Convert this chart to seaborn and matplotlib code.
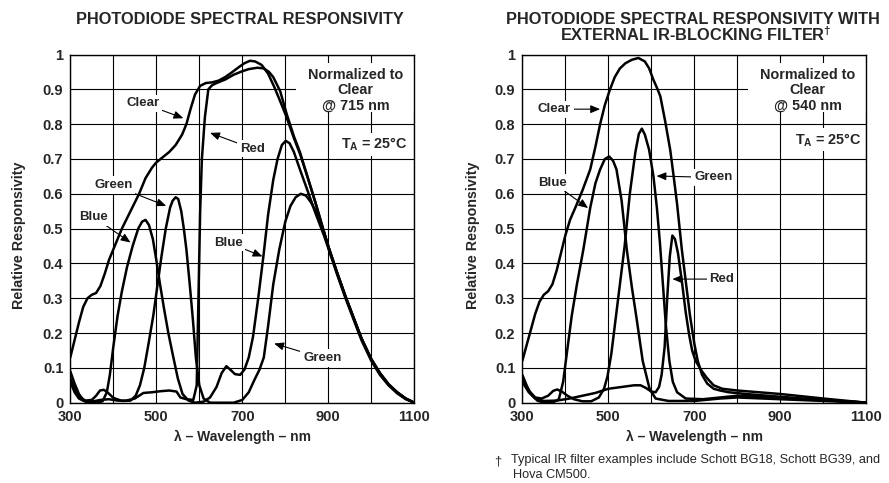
import numpy as np
import pandas as pd
import matplotlib
matplotlib.use("Agg")
import matplotlib.pyplot as plt
from matplotlib.patches import Rectangle
import seaborn as sns

# ---------------- data: left panel (no filter) ----------------
L_clear_wl = [300, 310, 320, 330, 340, 350, 360, 370, 380, 390, 400, 420, 440, 460, 475, 490, 500, 515, 530, 545,
              560, 570, 580, 590, 602, 615, 630, 645, 660, 675, 690, 705, 718, 730, 745, 760, 775, 790, 803, 820,
              834, 850, 870, 890, 901, 920, 940, 960, 977, 1000, 1020, 1040, 1060, 1080, 1100]
L_clear_v = [0.13, 0.18, 0.23, 0.275, 0.30, 0.31, 0.315, 0.335, 0.37, 0.41, 0.44, 0.50, 0.55, 0.60, 0.645, 0.675,
             0.69, 0.705, 0.72, 0.74, 0.77, 0.80, 0.845, 0.885, 0.91, 0.918, 0.92, 0.925, 0.935, 0.948, 0.962, 0.975,
             0.982, 0.98, 0.97, 0.945, 0.905, 0.86, 0.82, 0.76, 0.715, 0.655, 0.575, 0.49, 0.445, 0.375, 0.305, 0.24,
             0.185, 0.125, 0.085, 0.053, 0.03, 0.012, 0.0]

L_red_wl = [300, 310, 320, 335, 350, 370, 390, 410, 430, 450, 470, 490, 510, 530, 547, 556, 570, 586, 594, 598, 602,
            606, 613, 621, 630, 640, 660, 680, 700, 715, 735, 750, 762, 772, 788, 803, 820, 834, 850, 870, 890, 901,
            920, 940, 960, 977, 1000, 1020, 1040, 1060, 1080, 1100]
L_red_v = [0.06, 0.03, 0.012, 0.003, 0.003, 0.008, 0.01, 0.006, 0.006, 0.012, 0.028, 0.03, 0.033, 0.035, 0.032, 0.015,
           0.01, 0.008, 0.05, 0.30, 0.55, 0.70, 0.82, 0.90, 0.912, 0.918, 0.928, 0.942, 0.952, 0.958, 0.962, 0.96,
           0.95, 0.935, 0.895, 0.83, 0.765, 0.72, 0.655, 0.575, 0.49, 0.445, 0.375, 0.305, 0.24, 0.185, 0.125,
           0.085, 0.053, 0.03, 0.012, 0.0]

L_blue_wl = [300, 310, 320, 330, 345, 360, 375, 385, 392, 400, 410, 420, 432, 445, 458, 467, 475, 483, 492, 500, 508,
             518, 528, 538, 550, 561, 575, 590, 610, 625, 640, 652, 663, 672, 683, 695, 705, 715, 725, 737, 749, 760,
             772, 782, 792, 801, 810, 820, 834, 850, 870, 890, 901, 920, 940, 960, 977, 1000, 1020, 1040, 1060,
             1080, 1100]
L_blue_v = [0.09, 0.055, 0.025, 0.008, 0.0, 0.0, 0.004, 0.03, 0.08, 0.16, 0.25, 0.32, 0.39, 0.45, 0.50, 0.52, 0.525,
            0.51, 0.47, 0.41, 0.345, 0.27, 0.20, 0.14, 0.07, 0.025, 0.006, 0.0, 0.003, 0.015, 0.045, 0.085, 0.105,
            0.095, 0.082, 0.08, 0.095, 0.13, 0.19, 0.30, 0.42, 0.54, 0.64, 0.70, 0.74, 0.752, 0.745, 0.72, 0.67,
            0.615, 0.545, 0.48, 0.44, 0.37, 0.30, 0.235, 0.18, 0.12, 0.08, 0.05, 0.027, 0.01, 0.0]

L_green_wl = [300, 310, 320, 335, 350, 360, 369, 378, 388, 400, 420, 440, 452, 462, 472, 482, 493, 503, 512, 522, 532,
              538, 545, 551, 558, 564, 570, 577, 585, 592, 600, 610, 625, 650, 680, 700, 715, 728, 740, 750, 760, 772,
              786, 800, 812, 824, 836, 848, 860, 875, 890, 901, 920, 940, 960, 977, 1000, 1020, 1040, 1060, 1080,
              1100]
L_green_v = [0.07, 0.04, 0.018, 0.006, 0.008, 0.02, 0.035, 0.037, 0.028, 0.014, 0.005, 0.006, 0.02, 0.05, 0.10, 0.17,
             0.25, 0.34, 0.42, 0.50, 0.56, 0.58, 0.59, 0.585, 0.55, 0.50, 0.44, 0.35, 0.24, 0.13, 0.05, 0.012, 0.0,
             0.0, 0.0, 0.008, 0.03, 0.065, 0.095, 0.13, 0.22, 0.34, 0.44, 0.52, 0.565, 0.59, 0.60, 0.595, 0.575, 0.54,
             0.49, 0.445, 0.375, 0.305, 0.24, 0.185, 0.125, 0.085, 0.053, 0.03, 0.012, 0.0]

# ---------------- data: right panel (IR-blocking filter) ----------------
R_clear_wl = [300, 310, 320, 330, 340, 350, 360, 370, 380, 390, 400, 411, 425, 440, 458, 470, 481, 492, 504, 515, 527,
              540, 555, 570, 585, 595, 605, 613, 621, 632, 644, 652, 660, 671, 680, 690, 700, 708, 718, 730, 745, 760,
              780, 820, 870, 920, 970, 1020, 1070, 1100]
R_clear_v = [0.12, 0.165, 0.21, 0.255, 0.29, 0.31, 0.32, 0.34, 0.38, 0.43, 0.48, 0.525, 0.565, 0.61, 0.67, 0.735, 0.80,
             0.855, 0.90, 0.935, 0.96, 0.975, 0.985, 0.99, 0.98, 0.96, 0.927, 0.905, 0.88, 0.81, 0.726, 0.65, 0.57,
             0.44, 0.35, 0.25, 0.17, 0.12, 0.08, 0.055, 0.04, 0.035, 0.03, 0.025, 0.02, 0.015, 0.01, 0.006, 0.003,
             0.0]

R_blue_wl = [300, 310, 320, 335, 350, 370, 385, 395, 404, 415, 427, 442, 458, 470, 481, 492, 502, 511, 519, 531, 543,
             555, 566, 580, 596, 610, 640, 700, 760, 800, 900, 1000, 1100]
R_blue_v = [0.08, 0.05, 0.025, 0.006, 0.0, 0.0, 0.01, 0.06, 0.146, 0.25, 0.34, 0.44, 0.56, 0.63, 0.67, 0.70, 0.707,
            0.695, 0.67, 0.58, 0.44, 0.33, 0.24, 0.12, 0.04, 0.012, 0.005, 0.005, 0.012, 0.015, 0.01, 0.005, 0.0]

R_green_wl = [300, 315, 330, 345, 360, 372, 381, 392, 405, 420, 440, 460, 478, 490, 498, 507, 517, 527, 538, 550, 563,
              571, 578, 585, 595, 605, 613, 620, 627, 634, 642, 650, 660, 680, 720, 760, 800, 900, 1000, 1100]
R_green_v = [0.07, 0.035, 0.015, 0.012, 0.02, 0.034, 0.038, 0.032, 0.02, 0.01, 0.004, 0.004, 0.015, 0.04, 0.075, 0.14,
             0.24, 0.34, 0.45, 0.60, 0.72, 0.772, 0.787, 0.77, 0.726, 0.65, 0.56, 0.46, 0.34, 0.22, 0.12, 0.06, 0.03,
             0.012, 0.01, 0.015, 0.02, 0.015, 0.008, 0.0]

R_red_wl = [300, 315, 330, 350, 380, 410, 440, 470, 500, 530, 560, 575, 588, 600, 610, 618, 624, 631, 637, 643, 649,
            655, 662, 672, 680, 688, 695, 703, 718, 730, 745, 765, 800, 850, 900, 1000, 1100]
R_red_v = [0.06, 0.03, 0.012, 0.005, 0.006, 0.012, 0.02, 0.028, 0.04, 0.045, 0.05, 0.05, 0.042, 0.032, 0.03, 0.045,
           0.08, 0.16, 0.30, 0.42, 0.48, 0.47, 0.43, 0.34, 0.26, 0.195, 0.15, 0.12, 0.09, 0.07, 0.05, 0.04, 0.035,
           0.03, 0.025, 0.012, 0.0]

x_ticks = [300, 500, 700, 900, 1100]
y_ticks = [0, 0.1, 0.2, 0.3, 0.4, 0.5, 0.6, 0.7, 0.8, 0.9, 1]
y_ticklabels = ["0", "0.1", "0.2", "0.3", "0.4", "0.5", "0.6", "0.7", "0.8", "0.9", "1"]


def frame(series):
    rows = []
    for name, (wl, v) in series.items():
        rows.append(pd.DataFrame({"wl": wl, "v": v, "curve": name}))
    return pd.concat(rows, ignore_index=True)


left_df = frame({"Clear": (L_clear_wl, L_clear_v), "Red": (L_red_wl, L_red_v),
                 "Blue": (L_blue_wl, L_blue_v), "Green": (L_green_wl, L_green_v)})
right_df = frame({"Clear": (R_clear_wl, R_clear_v), "Red": (R_red_wl, R_red_v),
                  "Blue": (R_blue_wl, R_blue_v), "Green": (R_green_wl, R_green_v)})

sns.set_theme(style="white")
plt.rcParams["font.family"] = ["Liberation Sans", "DejaVu Sans"]
plt.rcParams["font.weight"] = "bold"
plt.rcParams["mathtext.fontset"] = "custom"
plt.rcParams["mathtext.bf"] = "Liberation Sans:bold"
plt.rcParams["mathtext.rm"] = "Liberation Sans:bold"

fig = plt.figure(figsize=(8.89, 4.83), dpi=100)
W, H = 889.0, 483.0
ax_l = fig.add_axes([70.3 / W, 1 - 402.7 / H, 344 / W, 348.2 / H])
ax_r = fig.add_axes([522.3 / W, 1 - 402.7 / H, 344 / W, 348.2 / H])

pal = {"Clear": "black", "Red": "black", "Blue": "black", "Green": "black"}

for ax, df, ylx in ((ax_l, left_df, -0.148), (ax_r, right_df, -0.143)):
    sns.lineplot(data=df, x="wl", y="v", hue="curve", units="curve", estimator=None, palette=pal,
                 linewidth=1.8, legend=False, ax=ax, zorder=3)
    ax.set_xlim(300, 1100)
    ax.set_ylim(0, 1)
    ax.set_xticks(x_ticks)
    ax.set_xticks(np.arange(400, 1100, 200), minor=True)
    ax.set_yticks(y_ticks)
    ax.set_yticklabels(y_ticklabels)
    ax.grid(True, which="both", color="black", linewidth=0.8)
    ax.set_axisbelow(True)
    ax.tick_params(axis="x", which="both", length=0, labelsize=10.5, pad=5)
    ax.tick_params(axis="y", which="both", length=0, labelsize=10.5, pad=5)
    for lab in ax.get_xticklabels() + ax.get_yticklabels():
        lab.set_fontweight("bold")
    for s in ax.spines.values():
        s.set_color("black")
        s.set_linewidth(1.0)
    ax.set_xlabel("λ – Wavelength – nm", fontsize=10, fontweight="bold", va="center")
    ax.xaxis.set_label_coords(0.5, -0.099)
    ax.set_ylabel("Relative Responsivity", fontsize=10.3, fontweight="bold", va="center")
    ax.yaxis.set_label_coords(ylx, 0.48)
    # white background behind the normalization note
    ax.add_patch(Rectangle((826, 0.835), 274, 0.142, facecolor="white", edgecolor="none", zorder=2.5))

box = dict(boxstyle="square,pad=0.2", fc="white", ec="none")
arrow = dict(arrowstyle="-|>,head_length=0.6,head_width=0.25", color="black", lw=0.8,
             shrinkA=0, shrinkB=0)
fs = 9.5
note_fs = 10.4


def note(ax, x, lines, y_top):
    for i, t in enumerate(lines):
        ax.text(x, y_top - i * 0.043, t, ha="center", va="center", fontsize=note_fs, fontweight="bold", zorder=4)


# left panel annotations
note(ax_l, 963, ["Normalized to", "Clear", "@ 715 nm"], 0.94)
ax_l.text(1008, 0.742, "T$_\\mathbf{A}$ = 25°C", ha="center", va="center", fontsize=note_fs, fontweight="bold",
          bbox=box, zorder=4)
ax_l.annotate("Clear", xy=(563, 0.817), xytext=(469, 0.86), ha="center", va="center", fontsize=fs,
              fontweight="bold", bbox=box, arrowprops=arrow, zorder=5)
ax_l.annotate("Red", xy=(625, 0.775), xytext=(723, 0.73), ha="center", va="center", fontsize=fs,
              fontweight="bold", bbox=box, arrowprops=arrow, zorder=5)
ax_l.annotate("Green", xy=(523, 0.565), xytext=(400, 0.625), ha="center", va="center", fontsize=fs,
              fontweight="bold", bbox=box, arrowprops=arrow, zorder=5)
ax_l.annotate("Blue", xy=(440, 0.46), xytext=(355, 0.533), ha="center", va="center", fontsize=fs,
              fontweight="bold", bbox=box, arrowprops=arrow, zorder=5)
ax_l.annotate("Blue", xy=(747, 0.42), xytext=(667, 0.46), ha="center", va="center", fontsize=fs,
              fontweight="bold", bbox=box, arrowprops=arrow, zorder=5)
ax_l.annotate("Green", xy=(774, 0.17), xytext=(886, 0.128), ha="center", va="center", fontsize=fs,
              fontweight="bold", bbox=box, arrowprops=arrow, zorder=5)

# right panel annotations
note(ax_r, 964, ["Normalized to", "Clear", "@ 540 nm"], 0.94)
ax_r.text(1012, 0.755, "T$_\\mathbf{A}$ = 25°C", ha="center", va="center", fontsize=note_fs, fontweight="bold",
          bbox=box, zorder=4)
ax_r.annotate("Clear", xy=(481, 0.843), xytext=(375, 0.843), ha="center", va="center", fontsize=fs,
              fontweight="bold", bbox=box, arrowprops=arrow, zorder=5)
ax_r.annotate("Blue", xy=(453, 0.559), xytext=(371, 0.632), ha="center", va="center", fontsize=fs,
              fontweight="bold", bbox=box, arrowprops=arrow, zorder=5)
ax_r.annotate("Green", xy=(612, 0.651), xytext=(744, 0.647), ha="center", va="center", fontsize=fs,
              fontweight="bold", bbox=box, arrowprops=arrow, zorder=5)
ax_r.annotate("Red", xy=(649, 0.355), xytext=(764, 0.355), ha="center", va="center", fontsize=fs,
              fontweight="bold", bbox=box, arrowprops=arrow, zorder=5)

# titles
title_fs = 11.8
fig.text(240 / W, 1 - 19 / H, "PHOTODIODE SPECTRAL RESPONSIVITY", ha="center", va="center",
         fontsize=title_fs, fontweight="bold")
fig.text(693 / W, 1 - 19 / H, "PHOTODIODE SPECTRAL RESPONSIVITY WITH", ha="center", va="center",
         fontsize=title_fs, fontweight="bold")
fig.text(696 / W, 1 - 35 / H, "EXTERNAL IR-BLOCKING FILTER$^\\mathbf{†}$", ha="center", va="center",
         fontsize=title_fs, fontweight="bold")

# footnote
fig.text(494 / W, 1 - 461 / H, "†", ha="left", va="center", fontsize=9.2, fontweight="normal")
fig.text(511 / W, 1 - 460 / H, "Typical IR filter examples include Schott BG18, Schott BG39, and",
         ha="left", va="center", fontsize=9.2, fontweight="normal")
fig.text(513 / W, 1 - 475 / H, "Hova CM500.", ha="left", va="center", fontsize=9.2, fontweight="normal")

fig.savefig("out.png", dpi=100)
